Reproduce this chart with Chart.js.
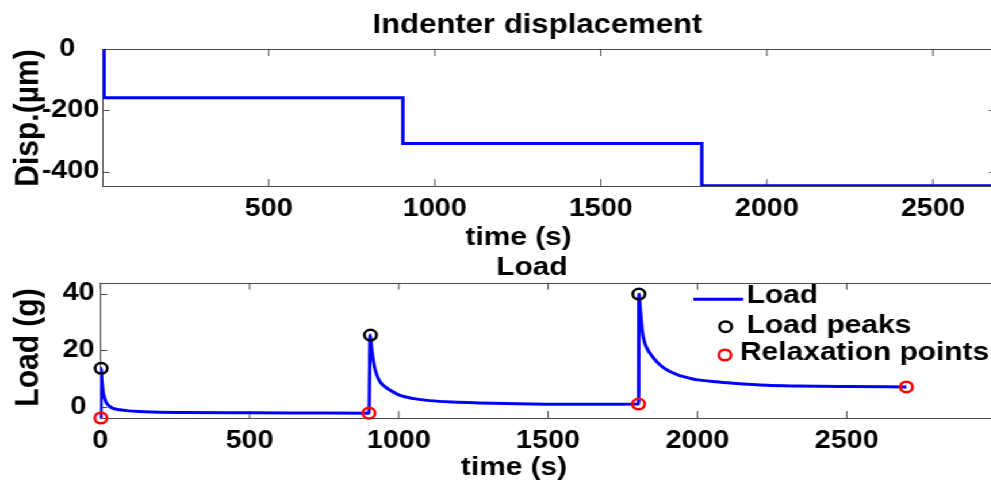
<!DOCTYPE html>
<html>
<head>
<meta charset="utf-8">
<script src="https://cdn.jsdelivr.net/npm/chart.js@4.4.1/dist/chart.umd.min.js"></script>
<style>
html,body{margin:0;padding:0;background:#fff;overflow:hidden;width:991px;height:482px;}
#wrap{position:absolute;left:0;top:0;width:880px;height:482px;transform:scaleX(1.15);transform-origin:0 0;}
canvas{display:block;}
</style>
</head>
<body>
<div id="wrap">
<canvas id="topChart" width="880" height="250"></canvas>
<canvas id="botChart" width="880" height="232"></canvas>
</div>
<script>
// ---------- data ----------
const dispTime   = [0, 4, 4, 904, 904, 1804, 1804, 2700];
const dispValue  = [0, 0, -159, -159, -308, -308, -446, -446];

const loadTime  = [2, 3, 5, 10, 15, 21, 30, 43, 65, 94, 130, 172, 283, 500, 700, 900,
                   904, 909, 914, 920, 928, 937, 952, 970, 1004, 1050, 1103, 1180, 1270, 1400, 1493, 1650, 1803,
                   1804, 1808, 1811, 1815, 1824, 1832, 1841, 1852, 1869, 1885, 1908, 1930, 1953, 1980,
                   2009, 2060, 2120, 2232, 2332, 2500, 2700];
const loadValue = [-3.7, 13.75, 9.6, 5.0, 3.0, 1.5, 0.5, -0.3, -0.8, -1.2, -1.45, -1.6, -1.8, -1.9, -1.95, -2.0,
                   25.4, 20.5, 16.7, 13.5, 11.0, 9.0, 7.4, 6.1, 4.2, 3.1, 2.4, 1.9, 1.6, 1.3, 1.15, 1.1, 1.2,
                   39.8, 35.0, 31.5, 27.0, 22.5, 20.6, 19.0, 17.5, 15.5, 14.1, 12.6, 11.6, 10.8, 10.1,
                   9.6, 9.0, 8.5, 7.8, 7.55, 7.35, 7.2];

const peakTime   = [3, 905, 1804];
const peakLoad   = [13.75, 25.4, 39.8];
const relaxTime  = [2, 900, 1803, 2700];
const relaxLoad  = [-3.7, -2.0, 1.2, 7.2];

const seriesNames = ['Load', 'Load peaks', 'Relaxation points'];

const topXTicks = [500, 1000, 1500, 2000, 2500];
const topYTicks = [-400, -200, 0];
const botXTicks = [0, 500, 1000, 1500, 2000, 2500];
const botYTicks = [0, 20, 40];

// ---------- styling ----------
const SX = 1.15;
const FAM = '"Liberation Sans", Arial, Helvetica, sans-serif';
const BLUE = '#0000ff';
const AXIS = '#4a4a4a';

function pts(xs, ys) { return xs.map((x, i) => ({ x: x, y: ys[i] })); }

function boxPlugin(rightTicks) {
  return {
    id: 'matlabBox',
    beforeDatasetsDraw(chart) {
      const { ctx, chartArea: a, scales } = chart;
      ctx.save();
      ctx.strokeStyle = AXIS;
      ctx.lineWidth = 1;
      ctx.strokeRect(Math.round(a.left) + 0.5, Math.round(a.top) + 0.5,
                     Math.round(a.right - a.left), Math.round(a.bottom - a.top));
      const tl = 7;
      ctx.beginPath();
      scales.x.ticks.forEach(t => {
        const px = scales.x.getPixelForValue(t.value);
        ctx.moveTo(px, a.bottom); ctx.lineTo(px, a.bottom - tl);
        ctx.moveTo(px, a.top); ctx.lineTo(px, a.top + tl);
      });
      scales.y.ticks.forEach(t => {
        const py = Math.round(scales.y.getPixelForValue(t.value)) + 0.5;
        ctx.moveTo(a.left, py); ctx.lineTo(a.left + tl / SX, py);
        if (rightTicks) { ctx.moveTo(a.right, py); ctx.lineTo(a.right - tl / SX, py); }
      });
      ctx.stroke();
      ctx.restore();
    }
  };
}

function textPlugin(items) {
  return {
    id: 'matlabText',
    afterDraw(chart) {
      const ctx = chart.ctx;
      items.forEach(it => {
        ctx.save();
        ctx.fillStyle = '#000';
        ctx.font = 'bold ' + it.size + 'px ' + FAM;
        ctx.textAlign = it.align || 'center';
        ctx.textBaseline = 'middle';
        ctx.translate(it.x, it.y);
        if (it.rot) ctx.rotate(it.rot);
        ctx.fillText(it.text, 0, 0);
        ctx.restore();
      });
    }
  };
}

function legendPlugin() {
  return {
    id: 'matlabLegend',
    afterDraw(chart) {
      const ctx = chart.ctx;
      const ds = chart.data.datasets;
      ctx.save();
      ctx.strokeStyle = ds[0].borderColor;
      ctx.lineWidth = 3;
      ctx.beginPath(); ctx.moveTo(603, 49.3); ctx.lineTo(646.3, 49.3); ctx.stroke();
      [[1, 631, 76.7], [2, 630.4, 105]].forEach(([i, x, y]) => {
        ctx.strokeStyle = ds[i].borderColor;
        ctx.lineWidth = 2.5;
        ctx.beginPath(); ctx.arc(x, y, 5.3, 0, Math.PI * 2); ctx.stroke();
      });
      ctx.fillStyle = '#000';
      ctx.font = 'bold 26px ' + FAM;
      ctx.textAlign = 'left';
      ctx.textBaseline = 'middle';
      ctx.fillText(ds[0].label, 649.3, 46);
      ctx.fillText(ds[1].label, 649.3, 76);
      ctx.fillText(ds[2].label, 643.5, 103);
      ctx.restore();
    }
  };
}

function tickFont() { return { family: FAM, size: 25, weight: 'bold' }; }

function makeScales(o) {
  return {
    x: {
      type: 'linear', min: o.xmin, max: o.xmax,
      afterBuildTicks: s => { s.ticks = o.xticks.map(v => ({ value: v })); },
      afterFit: s => { s.height = o.xh; },
      grid: { display: false, drawTicks: false },
      border: { display: false },
      ticks: { autoSkip: false, maxRotation: 0, minRotation: 0, padding: 8, color: '#000', font: tickFont(),
               callback: v => String(v) }
    },
    y: {
      type: 'linear', min: o.ymin, max: o.ymax,
      afterBuildTicks: s => { s.ticks = o.yticks.map(v => ({ value: v })); },
      afterFit: s => { s.width = o.yw; },
      grid: { display: false, drawTicks: false },
      border: { display: false },
      ticks: { autoSkip: false, padding: o.ypad, color: '#000', font: tickFont(),
               callback: v => (v === 0 ? '0' + ' '.repeat(o.zeroPad) : String(v)) }
    }
  };
}

// ---------- top chart: displacement ----------
new Chart(document.getElementById('topChart'), {
  type: 'line',
  data: {
    datasets: [{
      label: 'Disp.',
      data: pts(dispTime, dispValue),
      borderColor: BLUE, borderWidth: 3, pointRadius: 0, fill: false, tension: 0
    }]
  },
  options: {
    responsive: false, animation: false,
    layout: { padding: { top: 49, right: 880 - 866.1, left: 0, bottom: 0 } },
    plugins: { legend: { display: false }, title: { display: false }, tooltip: { enabled: false } },
    scales: makeScales({ xmin: 0, xmax: 2690, xticks: topXTicks, xh: 250 - 186,
                         ymin: -447, ymax: 0, yticks: topYTicks, yw: 89.3, ypad: 3, zeroPad: 3 })
  },
  plugins: [boxPlugin(true), textPlugin([
    { text: 'Indenter displacement', x: 467.4, y: 26, size: 27 },
    { text: 'time (s)', x: 451, y: 238, size: 26 },
    { text: 'Disp.(µm)', x: 24.3, y: 118, size: 30, rot: -Math.PI / 2 }
  ])]
});

// ---------- bottom chart: load ----------
new Chart(document.getElementById('botChart'), {
  type: 'line',
  data: {
    datasets: [
      { label: seriesNames[0], data: pts(loadTime, loadValue), borderColor: BLUE, borderWidth: 3,
        pointRadius: 0, fill: false, cubicInterpolationMode: 'monotone', order: 3 },
      { label: seriesNames[1], data: pts(peakTime, peakLoad), showLine: false, borderColor: '#000000',
        backgroundColor: 'rgba(0,0,0,0)', pointRadius: 5.3, pointBorderWidth: 2.5, clip: false, order: 2 },
      { label: seriesNames[2], data: pts(relaxTime, relaxLoad), showLine: false, borderColor: '#ff0000',
        backgroundColor: 'rgba(0,0,0,0)', pointRadius: 5.3, pointBorderWidth: 2.5, clip: false, order: 1 }
    ]
  },
  options: {
    responsive: false, animation: false,
    layout: { padding: { top: 32.7, right: 880 - 866.1, left: 0, bottom: 0 } },
    plugins: { legend: { display: false }, title: { display: false }, tooltip: { enabled: false } },
    scales: makeScales({ xmin: 0, xmax: 3000, xticks: botXTicks, xh: 232 - 168,
                         ymin: -3.7, ymax: 43.8, yticks: botYTicks, yw: 87.2, ypad: 5, zeroPad: 1 })
  },
  plugins: [boxPlugin(false), legendPlugin(), textPlugin([
    { text: 'Load', x: 462.6, y: 18, size: 26 },
    { text: 'time (s)', x: 447, y: 217.5, size: 26 },
    { text: 'Load (g)', x: 25.2, y: 97.5, size: 30, rot: -Math.PI / 2 }
  ])]
});
</script>
</body>
</html>
